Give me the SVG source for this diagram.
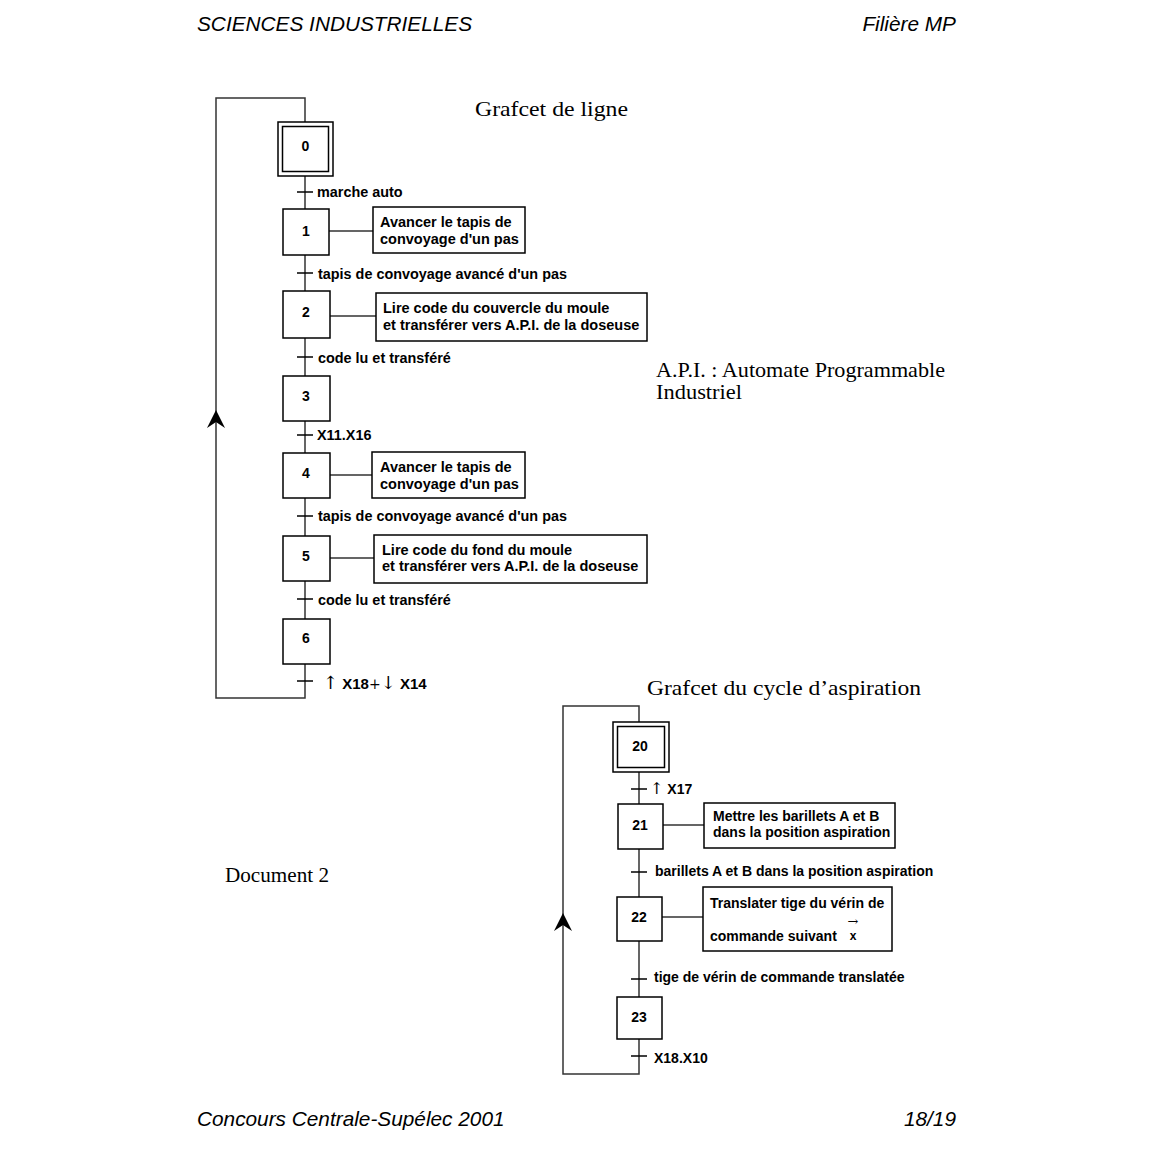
<svg xmlns="http://www.w3.org/2000/svg" width="1152" height="1152" viewBox="0 0 1152 1152">
<defs>
<style>
.bg{fill:#fff}
.box{fill:#fff;stroke:#000;stroke-width:1.5}
.ln{fill:none;stroke:#333;stroke-width:1.5}
.tk{stroke:#000;stroke-width:1.5}
.num{font-family:"Liberation Sans",Arial,sans-serif;font-weight:bold;font-size:14px;text-anchor:middle;fill:#000}
.lab{font-family:"Liberation Sans",Arial,sans-serif;font-weight:bold;font-size:14.4px;fill:#000}
.act{font-family:"Liberation Sans",Arial,sans-serif;font-weight:bold;font-size:14.5px;fill:#000}
.act2{font-family:"Liberation Sans",Arial,sans-serif;font-weight:bold;font-size:14px;fill:#000}
.ser{font-family:"Liberation Serif","Times New Roman",serif;font-size:21px;fill:#000}
.hdr{font-family:"Liberation Sans",Arial,sans-serif;font-style:italic;font-size:20.8px;fill:#000}
.sym{font-family:"DejaVu Serif","Liberation Serif",serif;font-weight:normal;font-size:15px}
</style>
</defs>
<rect class="bg" x="0" y="0" width="1152" height="1152"/>

<text class="hdr" x="197" y="31">SCIENCES INDUSTRIELLES</text>
<text class="hdr" x="956" y="31" text-anchor="end">Filière MP</text>
<text class="hdr" x="197" y="1126">Concours Centrale-Supélec 2001</text>
<text class="hdr" x="956" y="1126" text-anchor="end">18/19</text>

<text class="ser" x="475" y="116" style="font-size:22px" textLength="153" lengthAdjust="spacingAndGlyphs">Grafcet de ligne</text>
<text class="ser" x="656" y="377" textLength="289" lengthAdjust="spacingAndGlyphs">A.P.I. : Automate Programmable</text>
<text class="ser" x="656" y="399" textLength="86" lengthAdjust="spacingAndGlyphs">Industriel</text>
<text class="ser" x="225" y="882" textLength="104" lengthAdjust="spacingAndGlyphs">Document 2</text>
<text class="ser" x="647" y="695" textLength="274" lengthAdjust="spacingAndGlyphs">Grafcet du cycle d’aspiration</text>

<g id="connectors">
  <path class="ln" d="M305,122 V98 H216 V698 H305 V664"/>
  <path class="ln" d="M305,176 V209 M305,255 V291 M305,338 V376 M305,421 V453 M305,498 V536 M305,581 V619"/>
  <path fill="#000" d="M216,410 L225,428 L216,422 L207,428 Z"/>
  <path class="ln" d="M329,231 H373 M330,316 H376 M330,475 H372 M330,558 H374"/>
  <g class="tk">
    <line x1="297" y1="192" x2="313" y2="192"/>
    <line x1="297" y1="273" x2="313" y2="273"/>
    <line x1="297" y1="357" x2="313" y2="357"/>
    <line x1="297" y1="435" x2="313" y2="435"/>
    <line x1="297" y1="516" x2="313" y2="516"/>
    <line x1="297" y1="599" x2="313" y2="599"/>
    <line x1="297" y1="681" x2="313" y2="681"/>
  </g>

  <path class="ln" d="M639,722 V706 H563 V1074 H639 V1039"/>
  <path class="ln" d="M639,772 V804 M639,849 V897 M639,941 V997"/>
  <path fill="#000" d="M563,913 L572,931 L563,925 L554,931 Z"/>
  <path class="ln" d="M663,825 H704 M662,917 H703"/>
  <g class="tk">
    <line x1="631" y1="789" x2="647" y2="789"/>
    <line x1="631" y1="872" x2="647" y2="872"/>
    <line x1="631" y1="979" x2="647" y2="979"/>
    <line x1="631" y1="1056" x2="647" y2="1056"/>
  </g>
</g>

<g id="transitions-labels">
  <text class="lab" x="317" y="197">marche auto</text>
  <text class="lab" x="318" y="279">tapis de convoyage avancé d'un pas</text>
  <text class="lab" x="318" y="363">code lu et transféré</text>
  <text class="lab" x="317" y="440">X11.X16</text>
  <text class="lab" x="318" y="521">tapis de convoyage avancé d'un pas</text>
  <text class="lab" x="318" y="605">code lu et transféré</text>
  <text class="lab" x="323" y="689" style="font-size:15px"><tspan class="sym" style="font-size:18px">↑</tspan> X18<tspan class="sym" style="font-size:14px">+</tspan><tspan class="sym" style="font-size:18px">↓</tspan> X14</text>
  <text class="act2" x="650" y="794"><tspan class="sym" style="font-size:16px">↑</tspan> X17</text>
  <text class="act2" x="655" y="876">barillets A et B dans la position aspiration</text>
  <text class="act2" x="654" y="982">tige de vérin de commande translatée</text>
  <text class="act2" x="654" y="1063">X18.X10</text>
</g>

<g id="step0">
  <rect class="box" x="278" y="122" width="55" height="54"/>
  <rect class="box" x="282.5" y="126.5" width="46" height="45"/>
  <text class="num" x="305.5" y="151">0</text>
</g>
<g id="step1">
  <rect class="box" x="283" y="209" width="46" height="46"/>
  <text class="num" x="306" y="236">1</text>
</g>
<g id="action1">
  <rect class="box" x="373" y="207" width="152" height="46"/>
  <text class="act" x="380" y="227">Avancer le tapis de</text>
  <text class="act" x="380" y="244">convoyage d'un pas</text>
</g>
<g id="step2">
  <rect class="box" x="283" y="291" width="47" height="47"/>
  <text class="num" x="306" y="317">2</text>
</g>
<g id="action2">
  <rect class="box" x="376" y="293" width="271" height="48"/>
  <text class="act" x="383" y="313">Lire code du couvercle du moule</text>
  <text class="act" x="383" y="330">et transférer vers A.P.I. de la doseuse</text>
</g>
<g id="step3">
  <rect class="box" x="283" y="376" width="47" height="45"/>
  <text class="num" x="306" y="401">3</text>
</g>
<g id="step4">
  <rect class="box" x="283" y="453" width="47" height="45"/>
  <text class="num" x="306" y="478">4</text>
</g>
<g id="action4">
  <rect class="box" x="372" y="452" width="153" height="46"/>
  <text class="act" x="380" y="472">Avancer le tapis de</text>
  <text class="act" x="380" y="489">convoyage d'un pas</text>
</g>
<g id="step5">
  <rect class="box" x="283" y="536" width="47" height="45"/>
  <text class="num" x="306" y="561">5</text>
</g>
<g id="action5">
  <rect class="box" x="374" y="535" width="273" height="48"/>
  <text class="act" x="382" y="555">Lire code du fond du moule</text>
  <text class="act" x="382" y="571">et transférer vers A.P.I. de la doseuse</text>
</g>
<g id="step6">
  <rect class="box" x="283" y="619" width="47" height="45"/>
  <text class="num" x="306" y="643">6</text>
</g>

<g id="step20">
  <rect class="box" x="613" y="722" width="56" height="50"/>
  <rect class="box" x="617.5" y="726.5" width="47" height="41"/>
  <text class="num" x="640" y="751">20</text>
</g>
<g id="step21">
  <rect class="box" x="618" y="804" width="45" height="45"/>
  <text class="num" x="640" y="830">21</text>
</g>
<g id="action21">
  <rect class="box" x="704" y="803" width="191" height="45"/>
  <text class="act2" x="713" y="821">Mettre les barillets A et B</text>
  <text class="act2" x="713" y="837">dans la position aspiration</text>
</g>
<g id="step22">
  <rect class="box" x="617" y="897" width="45" height="44"/>
  <text class="num" x="639" y="922">22</text>
</g>
<g id="action22">
  <rect class="box" x="703" y="887" width="189" height="64"/>
  <text class="act2" x="710" y="908">Translater tige du vérin de</text>
  <text class="act2" x="710" y="941">commande suivant</text>
  <text class="act2" x="853" y="940" text-anchor="middle" style="font-size:12px">x</text>
  <text class="sym" x="853" y="926" text-anchor="middle" style="font-size:13px">→</text>
</g>
<g id="step23">
  <rect class="box" x="617" y="997" width="45" height="42"/>
  <text class="num" x="639" y="1022">23</text>
</g>
</svg>
